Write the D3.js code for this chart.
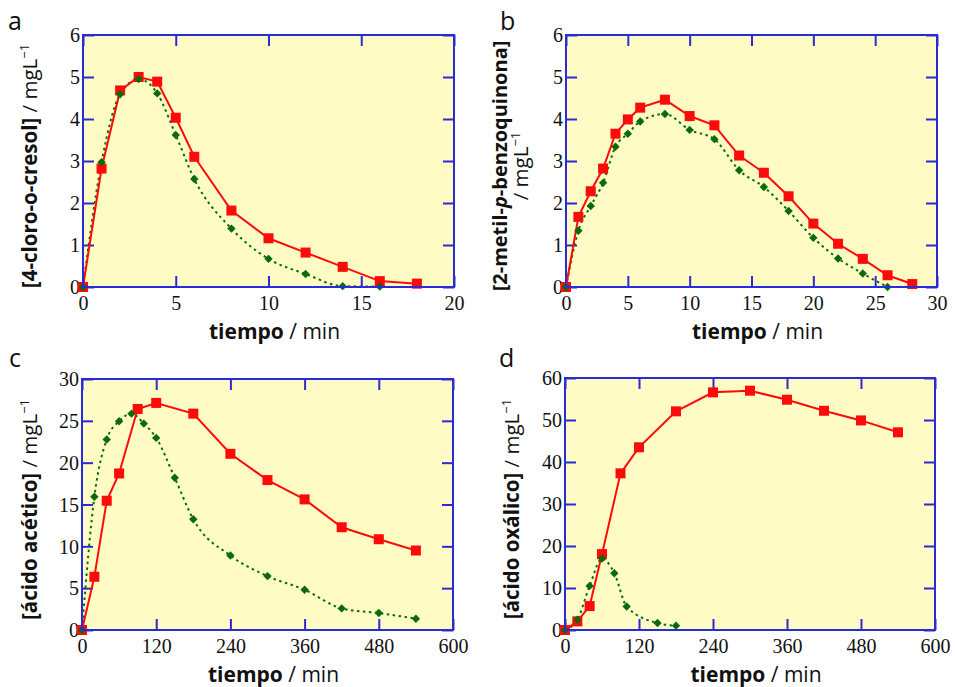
<!DOCTYPE html>
<html>
<head>
<meta charset="utf-8">
<script src="https://cdn.jsdelivr.net/npm/d3@7/dist/d3.min.js"></script>
<style>
  html, body { margin: 0; padding: 0; background: #ffffff; }
  svg { display: block; }
</style>
</head>
<body>
<svg id="chart" width="955" height="687"></svg>
<script>
// ---- Panel a: 4-cloro-o-cresol ----
const aTimeRed   = [0, 1, 2, 3, 4, 5, 6, 8, 10, 12, 14, 16, 18];
const aRed       = [0, 2.82, 4.68, 5.0, 4.89, 4.03, 3.10, 1.82, 1.16, 0.82, 0.48, 0.14, 0.08];
const aTimeGreen = [0, 1, 2, 3, 4, 5, 6, 8, 10, 12, 14, 16];
const aGreen     = [0, 2.97, 4.59, 4.95, 4.61, 3.62, 2.57, 1.39, 0.67, 0.31, 0.02, 0.01];
const aXTicks = [0, 5, 10, 15, 20];
const aYTicks = [0, 1, 2, 3, 4, 5, 6];

// ---- Panel b: 2-metil-p-benzoquinona ----
const bTimeRed   = [0, 1, 2, 3, 4, 5, 6, 8, 10, 12, 14, 16, 18, 20, 22, 24, 26, 28];
const bRed       = [0, 1.67, 2.28, 2.82, 3.65, 3.99, 4.27, 4.46, 4.07, 3.85, 3.13, 2.72, 2.16, 1.51, 1.03, 0.67, 0.28, 0.07];
const bTimeGreen = [0, 1, 2, 3, 4, 5, 6, 8, 10, 12, 14, 16, 18, 20, 22, 24, 26];
const bGreen     = [0, 1.34, 1.93, 2.48, 3.34, 3.65, 3.94, 4.12, 3.74, 3.52, 2.78, 2.38, 1.81, 1.17, 0.68, 0.32, 0.0];
const bXTicks = [0, 5, 10, 15, 20, 25, 30];
const bYTicks = [0, 1, 2, 3, 4, 5, 6];

// ---- Panel c: ácido acético ----
const cTimeRed   = [0, 20, 40, 60, 90, 120, 180, 240, 300, 360, 420, 480, 540];
const cRed       = [0, 6.36, 15.45, 18.71, 26.42, 27.14, 25.86, 21.06, 17.92, 15.61, 12.28, 10.85, 9.50];
const cTimeGreen = [0, 20, 40, 60, 80, 100, 120, 150, 180, 240, 300, 360, 420, 480, 540];
const cGreen     = [0, 15.93, 22.77, 24.95, 25.86, 24.67, 22.96, 18.2, 13.23, 8.90, 6.44, 4.81, 2.58, 2.03, 1.35];
const cXTicks = [0, 120, 240, 360, 480, 600];
const cYTicks = [0, 5, 10, 15, 20, 25, 30];

// ---- Panel d: ácido oxálico ----
const dTimeRed   = [0, 20, 40, 60, 90, 120, 180, 240, 300, 360, 420, 480, 540];
const dRed       = [0, 2.06, 5.7, 18.07, 37.3, 43.5, 52.06, 56.58, 56.98, 54.83, 52.2, 49.9, 47.07];
const dTimeGreen = [0, 20, 40, 60, 80, 100, 150, 180];
const dGreen     = [0, 2.46, 10.5, 17.0, 13.5, 5.6, 1.66, 1.03];
const dXTicks = [0, 120, 240, 360, 480, 600];
const dYTicks = [0, 10, 20, 30, 40, 50, 60];

const zip = (xs, ys) => xs.map((x, i) => ({ t: x, v: ys[i] }));

const panels = [
  { letter: "a", box: { x0: 83, x1: 454, y0: 35, y1: 287 }, letterPos: [8, 30],
    xDomain: [0, 20], yDomain: [0, 6], xTicks: aXTicks, yTicks: aYTicks,
    red: zip(aTimeRed, aRed), green: zip(aTimeGreen, aGreen),
    yLabel: [{ parts: [["[4-cloro-", "bold"], ["o", "bold"], ["-cresol]", "bold"], [" / mgL", "normal"], ["−1", "sup"]], x: 37, size: 20.5 }] },
  { letter: "b", box: { x0: 566, x1: 937, y0: 35, y1: 287 }, letterPos: [500, 30],
    xDomain: [0, 30], yDomain: [0, 6], xTicks: bXTicks, yTicks: bYTicks,
    red: zip(bTimeRed, bRed), green: zip(bTimeGreen, bGreen),
    yLabel: [
      { parts: [["[2-metil-", "bold"], ["p", "bolditalic"], ["-benzoquinona]", "bold"]], x: 507, size: 20 },
      { parts: [["/ mgL", "normal"], ["−1", "sup"]], x: 528, size: 20.5 }
    ] },
  { letter: "c", box: { x0: 82, x1: 453, y0: 379, y1: 630 }, letterPos: [9, 367],
    xDomain: [0, 600], yDomain: [0, 30], xTicks: cXTicks, yTicks: cYTicks,
    red: zip(cTimeRed, cRed), green: zip(cTimeGreen, cGreen),
    yLabel: [{ parts: [["[ácido acético]", "bold"], [" / mgL", "normal"], ["−1", "sup"]], x: 37, size: 20.5 }] },
  { letter: "d", box: { x0: 565, x1: 935, y0: 378, y1: 630 }, letterPos: [499, 367],
    xDomain: [0, 600], yDomain: [0, 60], xTicks: dXTicks, yTicks: dYTicks,
    red: zip(dTimeRed, dRed), green: zip(dTimeGreen, dGreen),
    yLabel: [{ parts: [["[ácido oxálico]", "bold"], [" / mgL", "normal"], ["−1", "sup"]], x: 519, size: 20.5 }] }
];

const svg = d3.select("#chart");
const BG = "#fefcc4";
const FRAME = "#2a2ad6";
const RED = "#ff0a0a";
const GREEN = "#0b6b0b";
const SANS = "'Open Sans', 'Noto Sans', sans-serif";
const SERIF = "'Liberation Serif', 'Times New Roman', serif";
const TICK = 11;
const fmt = d3.format("d");

function styleTspan(ts, kind) {
  if (kind === "bold") ts.attr("font-weight", 700);
  else if (kind === "bolditalic") ts.attr("font-weight", 700).attr("font-style", "italic");
  else if (kind === "sup") ts.attr("font-weight", 400).attr("font-size", "13px").attr("dy", "-8");
  else ts.attr("font-weight", 400);
}

panels.forEach(p => {
  const { x0, x1, y0, y1 } = p.box;
  const x = d3.scaleLinear().domain(p.xDomain).range([x0, x1]);
  const y = d3.scaleLinear().domain(p.yDomain).range([y1, y0]);
  const g = svg.append("g");

  // plot background
  g.append("rect").attr("x", x0).attr("y", y0).attr("width", x1 - x0).attr("height", y1 - y0)
    .attr("fill", BG);

  // inward ticks on all four sides
  const axes = [
    d3.axisBottom(x).tickValues(p.xTicks).tickFormat(fmt).tickSizeInner(-TICK).tickSizeOuter(0),
    d3.axisTop(x).tickValues(p.xTicks).tickSizeInner(-TICK).tickSizeOuter(0).tickFormat(""),
    d3.axisLeft(y).tickValues(p.yTicks).tickFormat(fmt).tickSizeInner(-TICK).tickSizeOuter(0),
    d3.axisRight(y).tickValues(p.yTicks).tickSizeInner(-TICK).tickSizeOuter(0).tickFormat("")
  ];
  const pos = [`translate(0,${y1})`, `translate(0,${y0})`, `translate(${x0},0)`, `translate(${x1},0)`];
  axes.forEach((ax, i) => {
    const a = g.append("g").attr("transform", pos[i]).call(ax);
    a.select(".domain").remove();
    a.selectAll(".tick line").attr("stroke", FRAME).attr("stroke-width", 2);
    a.selectAll(".tick text")
      .style("font-family", SERIF).style("font-size", "20px").attr("fill", "#111");
    if (i === 0) a.selectAll(".tick text").attr("y", 9).attr("dy", "0.71em");
    if (i === 2) a.selectAll(".tick text").attr("x", -3).attr("dy", "0.34em");
  });

  // series lines
  const lineRed = d3.line().x(d => x(d.t)).y(d => y(d.v));
  const lineGreen = d3.line().x(d => x(d.t)).y(d => y(d.v)).curve(d3.curveMonotoneX);

  g.append("path").datum(p.green).attr("d", lineGreen)
    .attr("fill", "none").attr("stroke", GREEN).attr("stroke-width", 2)
    .attr("stroke-dasharray", "2.5,3.5");
  g.append("path").datum(p.red).attr("d", lineRed)
    .attr("fill", "none").attr("stroke", RED).attr("stroke-width", 2);

  // markers
  const sq = 10;
  g.selectAll(".sq").data(p.red).enter().append("rect")
    .attr("x", d => x(d.t) - sq / 2).attr("y", d => y(d.v) - sq / 2)
    .attr("width", sq).attr("height", sq).attr("fill", RED);
  const dm = 4.2;
  g.selectAll(".dm").data(p.green).enter().append("path")
    .attr("d", d => `M${x(d.t)},${y(d.v) - dm}L${x(d.t) + dm},${y(d.v)}L${x(d.t)},${y(d.v) + dm}L${x(d.t) - dm},${y(d.v)}Z`)
    .attr("fill", GREEN);

  // frame
  g.append("rect").attr("x", x0).attr("y", y0).attr("width", x1 - x0).attr("height", y1 - y0)
    .attr("fill", "none").attr("stroke", FRAME).attr("stroke-width", 2);

  // x title
  const xt = g.append("text").attr("x", (x0 + x1) / 2 + 6).attr("y", y1 + 52)
    .attr("text-anchor", "middle").style("font-family", SANS).style("font-size", "21px").attr("fill", "#111");
  xt.append("tspan").attr("font-weight", 700).text("tiempo");
  xt.append("tspan").attr("font-weight", 400).text(" / min");

  // y title(s)
  const cy = (y0 + y1) / 2 + 5;
  p.yLabel.forEach(lbl => {
    const t = g.append("text").attr("transform", `translate(${lbl.x},${cy}) rotate(-90)`)
      .attr("text-anchor", "middle").style("font-family", SANS)
      .attr("font-size", (lbl.size || 21) + "px").attr("fill", "#111");
    lbl.parts.forEach(([s, kind]) => styleTspan(t.append("tspan").text(s), kind));
  });

  // panel letter
  g.append("text").attr("x", p.letterPos[0]).attr("y", p.letterPos[1])
    .style("font-family", SANS).style("font-size", "25px").attr("fill", "#111").text(p.letter);
});
</script>
</body>
</html>
